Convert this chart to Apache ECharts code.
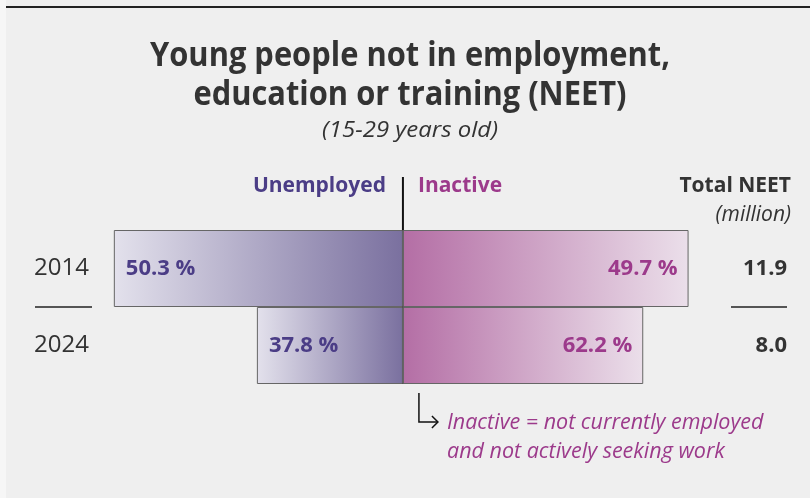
<!DOCTYPE html>
<html><head><meta charset="utf-8">
<script src="https://cdn.jsdelivr.net/npm/echarts@6/dist/echarts.min.js"></script>
<style>html,body{margin:0;padding:0;background:#efefef}#c{width:810px;height:498px}</style>
</head><body><div id="c"></div>
<script>
const years = ['2014', '2024'];
const unemployedPct = [50.3, 37.8];
const inactivePct = [49.7, 62.2];
const totalNeet = [11.9, 8.0];
const titleLines = ['Young people not in employment,', 'education or training (NEET)'];
const subtitle = '(15-29 years old)';
const noteLines = ['Inactive = not currently employed', 'and not actively seeking work'];

const FONT = 'Open Sans';
const PURPLE_U = '#4b3d86';
const PURPLE_I = '#9c3a8b';

const chart = echarts.init(document.getElementById('c'), null, {renderer: 'canvas'});

const gradU = new echarts.graphic.LinearGradient(0, 0, 1, 0, [
  {offset: 0, color: '#e3e1ec'}, {offset: 1, color: '#7a709f'}]);
const gradI = new echarts.graphic.LinearGradient(0, 0, 1, 0, [
  {offset: 0, color: '#b46ea5'}, {offset: 1, color: '#ebdfea'}]);

const option = {
  backgroundColor: '#efefef',
  animation: false,
  grid: {left: 89, right: 69, top: 230, bottom: 114},
  xAxis: {type: 'value', min: -6.5, max: 7, show: false},
  yAxis: [
    {type: 'category', data: years, inverse: true,
     axisLine: {show: false}, axisTick: {show: false}, splitLine: {show: false},
     axisLabel: {color: '#333', fontSize: 24, fontFamily: FONT, margin: 0,
       verticalAlign: 'middle', padding: [0, 0, 4, 0]}},
    {type: 'category', data: years, inverse: true, position: 'right',
     axisLine: {show: false}, axisTick: {show: false}, splitLine: {show: false},
     axisLabel: {color: '#333', fontSize: 22, fontWeight: 'bold', fontFamily: FONT,
       align: 'right', margin: 46, padding: [0, 0, 2, 0],
       formatter: (v, i) => totalNeet[i].toFixed(1)}}
  ],
  series: [
    {name: 'Unemployed', type: 'bar', yAxisIndex: 0, barWidth: '100%', barGap: '-100%',
     data: years.map((y, i) => ({value: -unemployedPct[i] / 100 * totalNeet[i], pct: unemployedPct[i]})),
     itemStyle: {color: gradU, borderColor: '#666', borderWidth: 1},
     label: {show: true, position: 'insideLeft', distance: 12, color: PURPLE_U,
       fontSize: 22, fontWeight: 'bold', fontFamily: FONT,
       formatter: p => p.data.pct.toFixed(1) + ' %'}},
    {name: 'Inactive', type: 'bar', yAxisIndex: 0, barWidth: '100%', barGap: '-100%',
     data: years.map((y, i) => ({value: inactivePct[i] / 100 * totalNeet[i], pct: inactivePct[i]})),
     itemStyle: {color: gradI, borderColor: '#666', borderWidth: 1},
     label: {show: true, position: 'insideRight', distance: 11, color: PURPLE_I,
       fontSize: 22, fontWeight: 'bold', fontFamily: FONT,
       formatter: p => p.data.pct.toFixed(1) + ' %'}}
  ]
};
chart.setOption(option);

const x0 = chart.convertToPixel({xAxisIndex: 0}, 0);
const yA = chart.convertToPixel({yAxisIndex: 0}, years[0]);
const yB = chart.convertToPixel({yAxisIndex: 0}, years[1]);
const yMid = (yA + yB) / 2;
const band = yB - yA;
const yBottom = yB + band / 2;

// fit condensed-looking title / subtitle via horizontal scaling
const ctx = document.createElement('canvas').getContext('2d');
const TITLE_FONT = 'bold 34px "' + FONT + '"';
const SUB_FONT = 'italic 22px "' + FONT + '"';
ctx.font = TITLE_FONT;
const titleScale = 520 / ctx.measureText(titleLines[0]).width;
ctx.font = SUB_FONT;
const subScale = 176 / ctx.measureText(subtitle).width;

function fitText(text, y, font, scale) {
  return {type: 'text', x: 410, y: y, scaleX: scale, originX: 0, originY: 0,
    style: {text: text, font: font, fill: '#333', align: 'center', verticalAlign: 'middle'}};
}

chart.setOption({
  graphic: [
    {type: 'rect', shape: {x: 0, y: 0, width: 6, height: 498}, style: {fill: '#f6f6f6'}},
    {type: 'line', shape: {x1: 6, y1: 7, x2: 810, y2: 7}, style: {stroke: '#222', lineWidth: 2}},
    fitText(titleLines[0], 56, TITLE_FONT, titleScale),
    fitText(titleLines[1], 95, TITLE_FONT, titleScale),
    fitText(subtitle, 131, SUB_FONT, subScale),
    {type: 'text', x: x0 - 17, y: 186, style: {text: 'Unemployed', font: 'bold 21px "' + FONT + '"', fill: PURPLE_U, align: 'right', verticalAlign: 'middle'}},
    {type: 'text', x: x0 + 15, y: 186, style: {text: 'Inactive', font: 'bold 21px "' + FONT + '"', fill: PURPLE_I, align: 'left', verticalAlign: 'middle'}},
    {type: 'text', x: 791, y: 186, style: {text: 'Total NEET', font: 'bold 21px "' + FONT + '"', fill: '#333', align: 'right', verticalAlign: 'middle'}},
    {type: 'text', x: 791, y: 215, style: {text: '(million)', font: 'italic 21px "' + FONT + '"', fill: '#333', align: 'right', verticalAlign: 'middle'}},
    {type: 'line', shape: {x1: x0, y1: 177, x2: x0, y2: yBottom}, style: {stroke: '#111', lineWidth: 2}},
    {type: 'line', shape: {x1: 35, y1: yMid, x2: 92, y2: yMid}, style: {stroke: '#222', lineWidth: 1.5}},
    {type: 'line', shape: {x1: 731, y1: yMid, x2: 787, y2: yMid}, style: {stroke: '#222', lineWidth: 1.5}},
    {type: 'polyline', shape: {points: [[x0 + 16, yBottom + 9], [x0 + 16, yBottom + 38], [x0 + 35, yBottom + 38]]}, style: {stroke: '#111', lineWidth: 1.5, fill: null}},
    {type: 'polyline', shape: {points: [[x0 + 29, yBottom + 32], [x0 + 35, yBottom + 38], [x0 + 29, yBottom + 44]]}, style: {stroke: '#111', lineWidth: 1.5, fill: null}},
    {type: 'text', x: 447, y: 423, style: {text: noteLines[0], font: 'italic 21.5px "' + FONT + '"', fill: PURPLE_I, align: 'left', verticalAlign: 'middle'}},
    {type: 'text', x: 447, y: 452, style: {text: noteLines[1], font: 'italic 21.5px "' + FONT + '"', fill: PURPLE_I, align: 'left', verticalAlign: 'middle'}}
  ]
});
</script></body></html>
